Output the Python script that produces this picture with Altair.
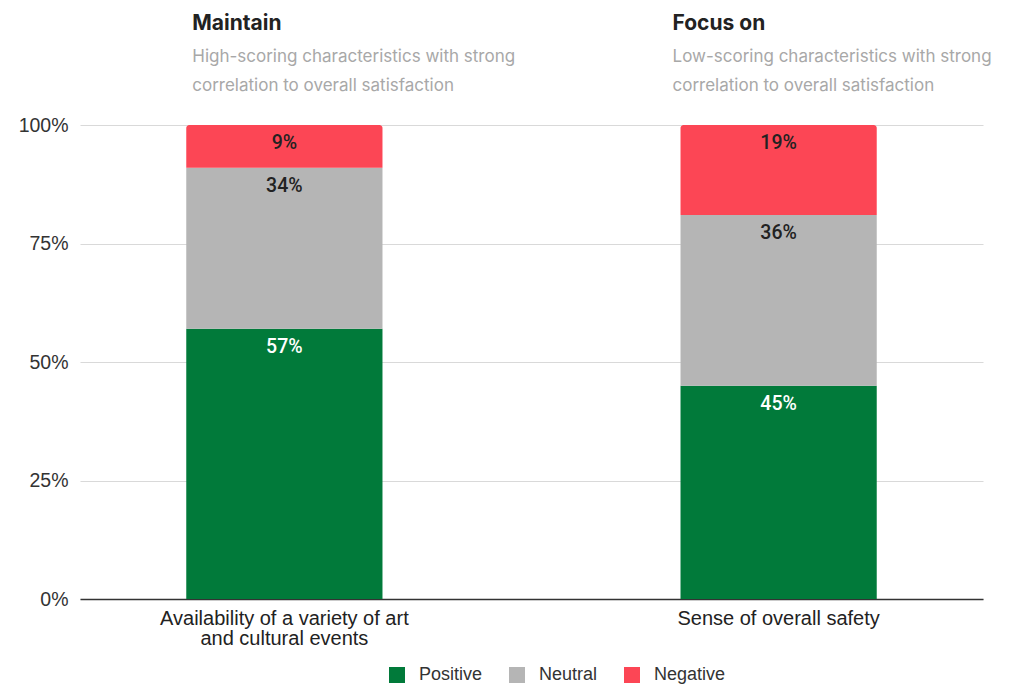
import altair as alt
import pandas as pd

categories = ["Availability of a variety of art\nand cultural events", "Sense of overall safety"]
sentiments = ["Positive", "Neutral", "Negative"]
positive = [57, 45]
neutral = [34, 36]
negative = [9, 19]
titles = ["Maintain", "Focus on"]
subtitles = [
    "High-scoring characteristics with strong\ncorrelation to overall satisfaction",
    "Low-scoring characteristics with strong\ncorrelation to overall satisfaction",
]
colors = ["#017a3a", "#b5b5b5", "#fc4655"]
y_ticks = [0, 25, 50, 75, 100]

rows = []
for i, c in enumerate(categories):
    for j, (s, vals) in enumerate(zip(sentiments, [positive, neutral, negative])):
        rows.append({"category": c, "sentiment": s, "value": vals[i], "order": j})
df = pd.DataFrame(rows)

tdf = pd.DataFrame({"category": categories, "title": titles, "subtitle": subtitles})

W, H = 903, 474
AXFONT = "Liberation Sans"

xscale = alt.Scale(domain=categories, paddingInner=0.603, paddingOuter=0.215)
yscale = alt.Scale(domain=[0, 100])

base = alt.Chart(df).transform_stack(
    stack="value", groupby=["category"], as_=["v0", "v1"],
    sort=[alt.SortField("order", order="ascending")]
)

color_enc = alt.Color("sentiment:N", scale=alt.Scale(domain=sentiments, range=colors),
                      sort=sentiments,
                      legend=alt.Legend(title=None, orient="none", direction="horizontal",
                                        legendX=308, legendY=541, symbolType="square",
                                        symbolSize=256, symbolStrokeWidth=0,
                                        labelFontSize=18, labelColor="#333", labelFont=AXFONT,
                                        labelOffset=13, columnPadding=25, symbolOpacity=1))

bars = base.transform_filter(alt.datum.sentiment != "Negative").mark_bar().encode(
    x=alt.X("category:N", scale=xscale, sort=categories, title=None,
            axis=alt.Axis(labelExpr="split(datum.label, '\\n')", labelAngle=0,
                          labelFontSize=20, labelColor="#222", labelFont=AXFONT,
                          labelPadding=9, labelLineHeight=20, labelLimit=0, ticks=False,
                          domainColor="#333", domainWidth=1.5, grid=False)),
    y=alt.Y("v0:Q", scale=yscale, title=None,
            axis=alt.Axis(values=y_ticks, labelExpr="datum.value + '%'",
                          labelFontSize=19.5, labelColor="#333", labelFont=AXFONT,
                          labelPadding=12, ticks=False, domain=False,
                          gridColor="#d9d9d9", gridWidth=1)),
    y2="v1:Q",
    color=color_enc,
)

top_bars = base.transform_filter(alt.datum.sentiment == "Negative").mark_bar(
    cornerRadiusTopLeft=3, cornerRadiusTopRight=3
).encode(
    x=alt.X("category:N", scale=xscale, sort=categories),
    y=alt.Y("v0:Q", scale=yscale),
    y2="v1:Q",
    color=color_enc,
)

labels = base.mark_text(baseline="middle", fontSize=19.5, font="Roboto", fontWeight=500, dy=18).encode(
    x=alt.X("category:N", scale=xscale, sort=categories),
    y=alt.Y("v1:Q", scale=yscale),
    text=alt.Text("label:N"),
    color=alt.condition(alt.datum.sentiment == "Positive", alt.value("#ffffff"), alt.value("#222222")),
).transform_calculate(label="datum.value + '%'")

tbase = alt.Chart(tdf)

def title_layer(idx, dx):
    sub = tbase.transform_filter(alt.datum.title == titles[idx])
    t = sub.mark_text(align="left", baseline="alphabetic", fontSize=21, fontWeight="bold",
                      font="Inter", color="#222", dx=dx).encode(
        x=alt.X("category:N", scale=xscale, sort=categories, bandPosition=0),
        y=alt.value(-95),
        text="title:N",
    )
    s = sub.mark_text(align="left", baseline="alphabetic", fontSize=17, font="Inter",
                      color="#a8a8a8", lineBreak="\n", lineHeight=29, dx=dx).encode(
        x=alt.X("category:N", scale=xscale, sort=categories, bandPosition=0),
        y=alt.value(-63),
        text="subtitle:N",
    )
    return t + s

chart = alt.layer(bars, top_bars, labels, title_layer(0, 6), title_layer(1, -8)).properties(
    width=W, height=H,
    padding={"left": 80, "top": 125, "right": 40, "bottom": 87},
    autosize=alt.AutoSizeParams(type="none"),
    background="white",
).configure_view(stroke=None)

chart.save("out.html", embed_options={"renderer": "svg", "actions": False})
